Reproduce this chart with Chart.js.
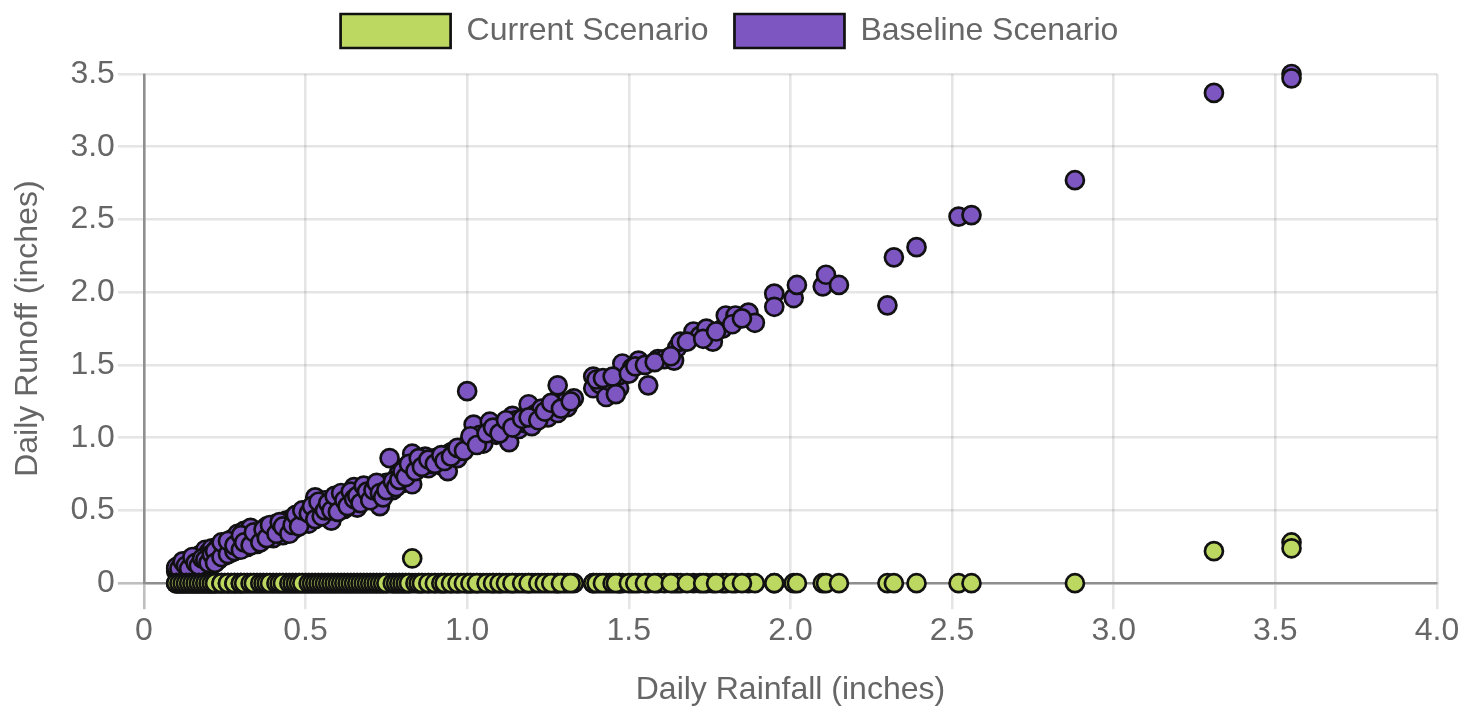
<!DOCTYPE html>
<html>
<head>
<meta charset="utf-8">
<title>Daily Rainfall vs Daily Runoff</title>
<script src="https://cdn.jsdelivr.net/npm/chart.js@4.4.0/dist/chart.umd.min.js"></script>
<style>
  html, body { margin: 0; padding: 0; background: #ffffff; }
  #wrap { width: 1476px; height: 713px; }
</style>
</head>
<body>
<div id="wrap"><canvas id="runoffChart" width="1476" height="713"></canvas></div>
<script>
// Daily rainfall for each storm day (inches)
const rainfall = [
  0.10,0.10,0.11,0.11,0.12,0.12,0.13,0.13,0.14,0.14,
  0.15,0.15,0.16,0.16,0.17,0.17,0.18,0.18,0.19,0.19,
  0.20,0.20,0.21,0.21,0.22,0.23,0.23,0.24,0.25,0.25,
  0.26,0.27,0.27,0.28,0.29,0.29,0.30,0.31,0.32,0.32,
  0.33,0.34,0.35,0.35,0.36,0.37,0.38,0.39,0.40,0.40,
  0.41,0.42,0.43,0.44,0.44,0.45,0.46,0.47,0.48,0.49,
  0.50,0.50,0.51,0.52,0.53,0.54,0.55,0.56,0.57,0.58,
  0.59,0.60,0.61,0.62,0.63,0.64,0.65,0.66,0.67,0.68,
  0.69,0.70,0.71,0.72,0.73,0.74,0.75,0.76,0.77,0.78,
  0.79,0.80,0.81,0.82,0.83,0.83,0.85,0.86,0.87,0.88,
  0.89,0.90,0.91,0.92,0.93,0.94,0.95,0.96,0.97,0.98,
  1.00,1.00,1.01,1.02,1.03,1.04,1.05,1.07,1.08,1.09,
  1.10,1.11,1.13,1.14,1.15,1.16,1.18,1.19,1.20,1.21,
  1.23,1.25,1.27,1.28,1.28,1.30,1.31,1.33,1.39,1.39,
  1.41,1.43,1.44,1.47,1.47,1.48,1.51,1.53,1.56,1.59,
  1.61,1.64,1.65,1.66,1.70,1.72,1.74,1.76,1.79,1.80,
  1.83,1.87,1.89,1.95,1.95,2.01,2.02,2.10,2.11,2.15,
  2.30,2.32,2.39,2.52,2.56,2.88,3.31,3.55,3.55,
  0.10,0.11,0.12,0.13,0.14,0.15,0.16,0.17,0.18,0.19,
  0.20,0.21,0.22,0.22,0.24,0.24,0.26,0.26,0.28,0.28,
  0.30,0.30,0.31,0.33,0.34,0.36,0.37,0.38,0.39,0.41,
  0.42,0.43,0.45,0.46,0.47,0.48,0.49,0.51,0.52,0.53,
  0.54,0.55,0.56,0.57,0.58,0.59,0.60,0.61,0.62,0.63,
  0.64,0.65,0.66,0.67,0.68,0.69,0.70,0.71,0.72,0.73,
  0.74,0.75,0.77,0.78,0.79,0.80,0.81,0.82,0.84,0.85,
  0.86,0.88,0.90,0.92,0.93,0.95,0.97,0.99,1.01,1.03,
  1.06,1.08,1.10,1.12,1.14,1.17,1.19,1.22,1.24,1.26,
  1.29,1.32,1.40,1.42,1.45,1.46,1.50,1.52,1.55,1.58,
  1.63,1.68,1.73,1.77,1.82,1.85
];

// Daily runoff under the baseline scenario (inches)
const baselineRunoff = [
  0.08,0.10,0.12,0.09,0.13,0.10,0.11,0.14,0.12,0.16,
  0.13,0.15,0.12,0.17,0.15,0.19,0.14,0.20,0.13,0.23,
  0.17,0.21,0.15,0.24,0.18,0.16,0.25,0.21,0.19,0.27,
  0.23,0.30,0.21,0.31,0.24,0.34,0.27,0.36,0.25,0.30,
  0.38,0.29,0.27,0.33,0.35,0.30,0.39,0.33,0.31,0.37,
  0.41,0.36,0.33,0.43,0.36,0.40,0.45,0.38,0.44,0.42,
  0.50,0.47,0.41,0.45,0.59,0.48,0.52,0.57,0.46,0.43,
  0.53,0.58,0.55,0.51,0.60,0.56,0.66,0.52,0.61,0.64,
  0.58,0.62,0.67,0.60,0.53,0.66,0.69,0.86,0.64,0.72,
  0.76,0.69,0.80,0.74,0.68,0.89,0.79,0.84,0.87,0.79,
  0.82,0.86,0.84,0.81,0.88,0.77,0.90,0.91,0.86,0.93,
  1.32,0.95,0.97,1.09,0.99,1.02,0.96,1.11,1.04,1.02,
  1.07,1.09,0.97,1.15,1.12,1.06,1.10,1.23,1.08,1.16,
  1.20,1.14,1.21,1.17,1.36,1.24,1.21,1.27,1.42,1.34,
  1.37,1.28,1.39,1.34,1.43,1.51,1.48,1.53,1.36,1.54,
  1.54,1.53,1.62,1.66,1.73,1.70,1.75,1.66,1.75,1.84,
  1.84,1.86,1.79,1.99,1.90,1.96,2.05,2.04,2.12,2.05,
  1.91,2.24,2.31,2.52,2.53,2.77,3.37,3.50,3.47,
  0.11,0.10,0.15,0.12,0.10,0.18,0.14,0.12,0.17,0.16,
  0.14,0.20,0.22,0.14,0.18,0.28,0.20,0.29,0.22,0.26,
  0.23,0.33,0.28,0.26,0.35,0.28,0.37,0.31,0.40,0.34,
  0.42,0.39,0.34,0.40,0.47,0.39,0.50,0.48,0.53,0.44,
  0.56,0.46,0.50,0.55,0.50,0.60,0.49,0.62,0.57,0.53,
  0.63,0.58,0.60,0.55,0.67,0.63,0.57,0.64,0.69,0.62,
  0.59,0.64,0.70,0.66,0.71,0.77,0.73,0.82,0.77,0.86,
  0.80,0.85,0.82,0.88,0.84,0.87,0.93,0.91,1.01,0.95,
  1.03,1.07,1.03,1.12,1.07,1.13,1.14,1.12,1.18,1.24,
  1.20,1.25,1.40,1.41,1.42,1.30,1.44,1.49,1.50,1.52,
  1.56,1.66,1.68,1.73,1.78,1.82
];

// Daily runoff under the current scenario (inches)
const currentRunoff = [
  0,0,0,0,0,0,0,0,0,0,
  0,0,0,0,0,0,0,0,0,0,
  0,0,0,0,0,0,0,0,0,0,
  0,0,0,0,0,0,0,0,0,0,
  0,0,0,0,0,0,0,0,0,0,
  0,0,0,0,0,0,0,0,0,0,
  0,0,0,0,0,0,0,0,0,0,
  0,0,0,0,0,0,0,0,0,0,
  0,0,0,0,0,0,0,0,0,0,
  0,0,0,0,0.17,0,0,0,0,0,
  0,0,0,0,0,0,0,0,0,0,
  0,0,0,0,0,0,0,0,0,0,
  0,0,0,0,0,0,0,0,0,0,
  0,0,0,0,0,0,0,0,0,0,
  0,0,0,0,0,0,0,0,0,0,
  0,0,0,0,0,0,0,0,0,0,
  0,0,0,0,0,0,0,0,0,0,
  0,0,0,0,0,0,0.22,0.28,0.24,
  0,0,0,0,0,0,0,0,0,0,
  0,0,0,0,0,0,0,0,0,0,
  0,0,0,0,0,0,0,0,0,0,
  0,0,0,0,0,0,0,0,0,0,
  0,0,0,0,0,0,0,0,0,0,
  0,0,0,0,0,0,0,0,0,0,
  0,0,0,0,0,0,0,0,0,0,
  0,0,0,0,0,0,0,0,0,0,
  0,0,0,0,0,0,0,0,0,0,
  0,0,0,0,0,0,0,0,0,0,
  0,0,0,0,0,0
];

const seriesNames = ['Current Scenario', 'Baseline Scenario'];
const xTickLabels = ['0','0.5','1.0','1.5','2.0','2.5','3.0','3.5','4.0'];
const yTickLabels = ['0','0.5','1.0','1.5','2.0','2.5','3.0','3.5'];

const toPoints = (ys) => rainfall.map((x, i) => ({ x: x, y: ys[i] }));

Chart.defaults.font.family = "'Liberation Sans', Arial, Helvetica, sans-serif";
Chart.defaults.font.size = 32;
Chart.defaults.color = '#666666';

const gridColor = (ctx) => (ctx.tick && ctx.tick.value === 0) ? 'rgba(0,0,0,0.25)' : 'rgba(0,0,0,0.1)';

// Extra room under the legend row, and a small rightward nudge of the legend
const legendPlacement = {
  id: 'legendPlacement',
  beforeInit(chart) {
    const baseFit = chart.legend.fit;
    chart.legend.fit = function fit() {
      baseFit.call(this);
      this.height += 16;
    };
  },
  afterLayout(chart) {
    chart.legend.left += 11;
    chart.legend.right += 11;
  }
};

new Chart(document.getElementById('runoffChart'), {
  type: 'scatter',
  data: {
    datasets: [
      {
        label: seriesNames[0],
        data: toPoints(currentRunoff),
        backgroundColor: 'rgb(189,216,96)',
        borderColor: '#111111',
        borderWidth: 2.7,
        pointRadius: 9,
        pointHoverRadius: 9,
        clip: false
      },
      {
        label: seriesNames[1],
        data: toPoints(baselineRunoff),
        backgroundColor: 'rgb(126,86,194)',
        borderColor: '#111111',
        borderWidth: 2.7,
        pointRadius: 9,
        pointHoverRadius: 9,
        clip: false
      }
    ]
  },
  options: {
    responsive: false,
    animation: false,
    layout: { padding: { top: -12, right: 39, bottom: 0, left: 0 } },
    plugins: {
      tooltip: { enabled: false },
      legend: {
        position: 'top',
        labels: {
          boxWidth: 110,
          boxHeight: 34,
          padding: 26,
          color: '#666666',
          font: { size: 32 }
        }
      }
    },
    scales: {
      x: {
        type: 'linear',
        min: 0,
        max: 4,
        grid: { color: gridColor, tickColor: gridColor, lineWidth: 2.6, tickLength: 26 },
        border: { color: 'rgba(0,0,0,0.25)', width: 2.6 },
        ticks: {
          stepSize: 0.5,
          padding: 3,
          maxRotation: 0,
          callback: (v, i) => xTickLabels[i]
        },
        title: {
          display: true,
          text: 'Daily Rainfall (inches)',
          font: { size: 32 },
          padding: { top: 17, bottom: 4 }
        }
      },
      y: {
        type: 'linear',
        min: 0,
        max: 3.5,
        grid: { color: gridColor, tickColor: gridColor, lineWidth: 2.6, tickLength: 26 },
        border: { color: 'rgba(0,0,0,0.25)', width: 2.6 },
        ticks: {
          stepSize: 0.5,
          padding: 3,
          callback: (v, i) => yTickLabels[i]
        },
        title: {
          display: true,
          text: 'Daily Runoff (inches)',
          font: { size: 32 },
          padding: { top: 9, bottom: 20 }
        }
      }
    }
  },
  plugins: [legendPlacement]
});
</script>
</body>
</html>
